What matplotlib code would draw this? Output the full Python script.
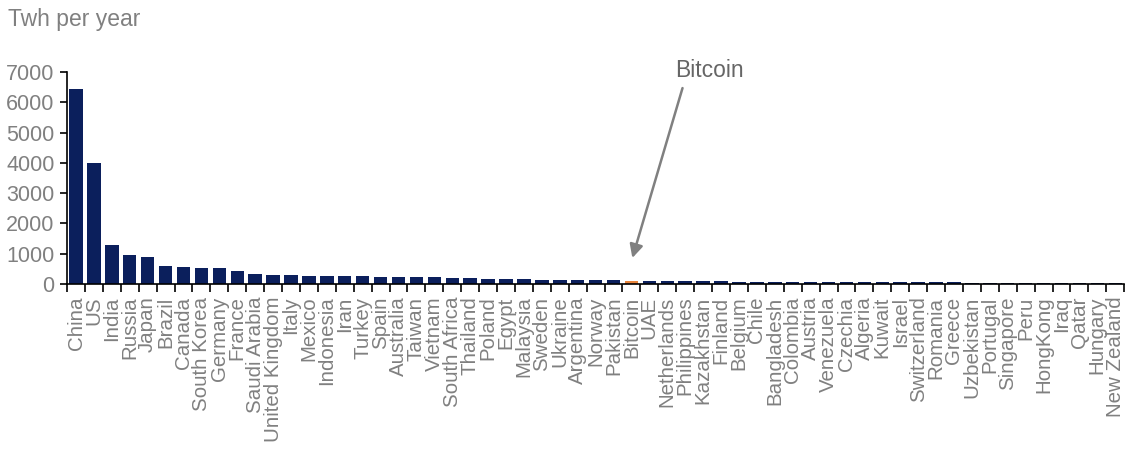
import numpy as np
import matplotlib.pyplot as plt

plt.rcParams['font.family'] = ['Liberation Sans', 'DejaVu Sans']

countries = ["China", "US", "India", "Russia", "Japan", "Brazil", "Canada", "South Korea",
             "Germany", "France", "Saudi Arabia", "United Kingdom", "Italy", "Mexico",
             "Indonesia", "Iran", "Turkey", "Spain", "Australia", "Taiwan", "Vietnam",
             "South Africa", "Thailand", "Poland", "Egypt", "Malaysia", "Sweden", "Ukraine",
             "Argentina", "Norway", "Pakistan", "Bitcoin", "UAE", "Netherlands", "Philippines",
             "Kazakhstan", "Finland", "Belgium", "Chile", "Bangladesh", "Colombia", "Austria",
             "Venezuela", "Czechia", "Algeria", "Kuwait", "Israel", "Switzerland", "Romania",
             "Greece", "Uzbekistan", "Portugal", "Singapore", "Peru", "HongKong", "Iraq",
             "Qatar", "Hungary", "New Zealand"]
twh = [6450, 4000, 1280, 960, 900, 590, 550, 520, 520, 440, 320, 290, 290, 260, 260, 250,
       250, 240, 240, 230, 220, 210, 190, 160, 160, 150, 140, 130, 130, 125, 120, 115, 110,
       110, 100, 95, 85, 82, 80, 78, 75, 70, 68, 65, 65, 62, 60, 58, 55, 52, 50, 48, 46, 45,
       43, 42, 40, 38, 36]

navy = '#0b1f5c'
orange = '#e8833a'
gray = '#808080'

colors = [orange if c == "Bitcoin" else navy for c in countries]
x = np.arange(len(countries))

fig = plt.figure(figsize=(11.27, 4.53), dpi=100)
ax = fig.add_axes([0.0595, 0.373, 0.938, 0.468])
ax.bar(x, twh, width=0.75, color=colors)

ax.set_xlim(-0.5, len(countries) - 0.5)
ax.set_ylim(0, 7000)
ax.set_yticks(range(0, 7001, 1000))
ax.tick_params(axis='y', labelsize=15.5, labelcolor=gray, length=5, width=1.2, pad=4)

# category boundaries get the tick marks, labels sit in between
ax.set_xticks(np.arange(-0.5, len(countries), 1.0))
ax.set_xticklabels([])
ax.set_xticks(x, minor=True)
ax.set_xticklabels(countries, minor=True, rotation=90, fontsize=14.8, color=gray)
ax.tick_params(axis='x', which='major', length=6, width=1.2, direction='out')
ax.tick_params(axis='x', which='minor', length=0, pad=9)

for s in ['top', 'right']:
    ax.spines[s].set_visible(False)
for s in ['left', 'bottom']:
    ax.spines[s].set_linewidth(1.2)

fig.text(0.007, 0.958, "Twh per year", fontsize=16.5, color=gray, va='center')

bi = countries.index("Bitcoin")
ax.text(bi + 2.45, 7060, "Bitcoin", fontsize=16.5, color='#666666', ha='left', va='center')
ax.annotate("", xy=(bi + 0.05, 860), xytext=(bi + 2.85, 6470),
            arrowprops=dict(arrowstyle='-|>', color=gray, lw=1.8,
                            mutation_scale=20, shrinkA=0, shrinkB=0))

fig.savefig('out.png', dpi=100)
